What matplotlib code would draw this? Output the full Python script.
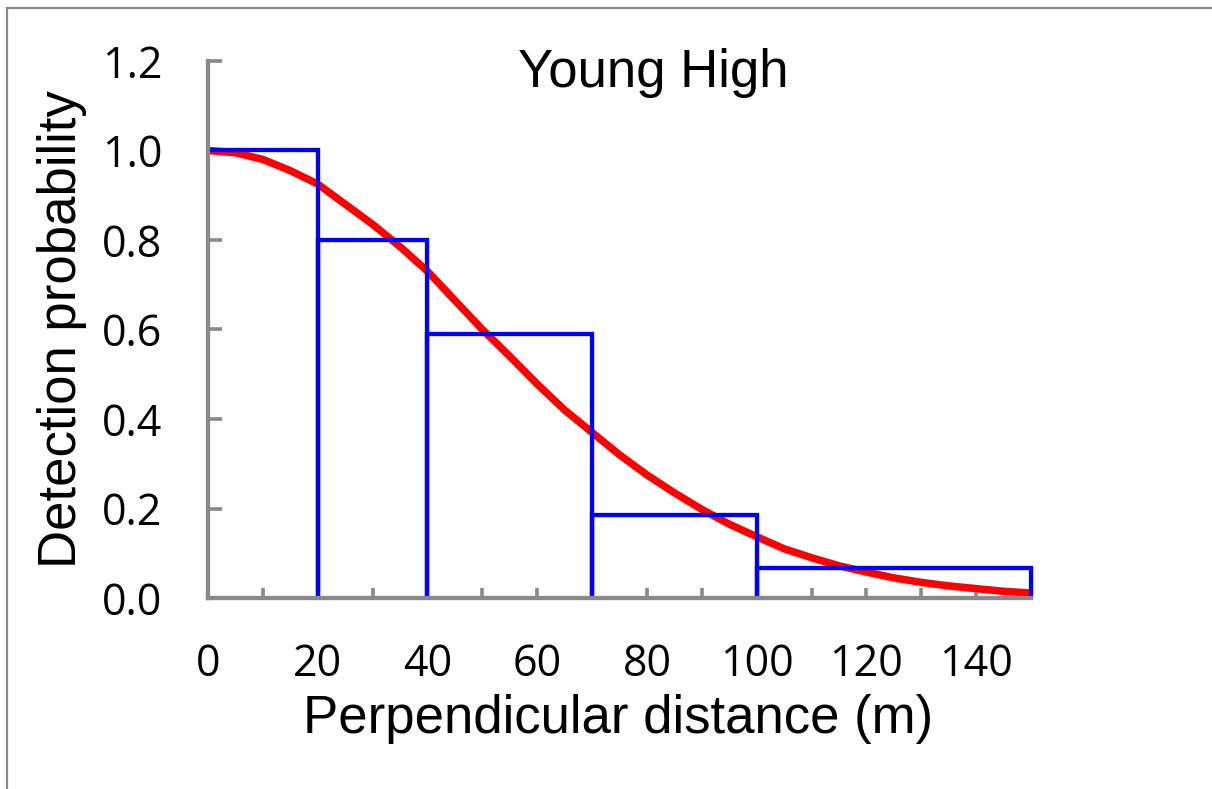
import matplotlib
matplotlib.use("Agg")
import matplotlib.pyplot as plt
from matplotlib.lines import Line2D
from matplotlib.ticker import MultipleLocator

# Histogram of scaled detection frequencies
bin_edges = [0, 20, 40, 70, 100, 150]
bin_heights = [1.00, 0.80, 0.59, 0.185, 0.066]

# Fitted detection function
curve_x = [0, 5, 10, 15, 20, 25, 30, 35, 40, 45, 50, 55, 60, 65, 70, 75,
           80, 85, 90, 95, 100, 105, 110, 115, 120, 125, 130, 135, 140, 145, 150]
curve_y = [1.00, 0.995, 0.98, 0.955, 0.925, 0.88, 0.835, 0.785, 0.73, 0.665,
           0.60, 0.54, 0.478, 0.42, 0.37, 0.32, 0.275, 0.235, 0.198, 0.165,
           0.137, 0.11, 0.09, 0.072, 0.058, 0.045, 0.035, 0.027, 0.021, 0.015, 0.011]

title = "Young High"
xlabel = "Perpendicular distance (m)"
ylabel = "Detection probability"

W, H = 1212, 789
fig = plt.figure(figsize=(W / 100, H / 100), dpi=100)
ax = fig.add_axes([208 / W, 1 - 598 / H, (1031 - 208) / W, (598 - 61) / H])

grey = "#898989"

# Histogram outline: top of each bin, then down to the axis at its right edge
path_x, path_y = [], []
for i, h in enumerate(bin_heights):
    left, right = bin_edges[i], bin_edges[i + 1]
    path_x += [left, right, right]
    path_y += [h, h, 0]
    if i + 1 < len(bin_heights):
        path_x.append(right)
        path_y.append(bin_heights[i + 1])
ax.plot(path_x, path_y, color="#0000FF", linewidth=3.1, zorder=3,
        clip_on=False, solid_joinstyle="miter", solid_capstyle="butt")
ax.plot(curve_x, curve_y, color="#FF0000", linewidth=5.4, zorder=2,
        clip_on=False, solid_capstyle="butt")

ax.set_xlim(0, 150)
ax.set_ylim(0, 1.2)

for s in ["top", "right"]:
    ax.spines[s].set_visible(False)
for s in ["left", "bottom"]:
    ax.spines[s].set_color(grey)
    ax.spines[s].set_linewidth(3.1)
    ax.spines[s].set_zorder(4)

ax.xaxis.set_major_locator(MultipleLocator(20))
ax.xaxis.set_minor_locator(MultipleLocator(10))
ax.yaxis.set_major_locator(MultipleLocator(0.2))
ax.yaxis.set_major_formatter(plt.FuncFormatter(lambda v, p: f"{v:.1f}"))

tick_font = "Open Sans"
ax.tick_params(axis="x", which="both", direction="in", length=7.5, width=2.6,
               color=grey, pad=32, labelsize=31)
ax.tick_params(axis="y", which="major", direction="in", length=10, width=2.6,
               color=grey, pad=33, labelsize=31)
for lab in ax.get_xticklabels() + ax.get_yticklabels():
    lab.set_family(tick_font)

fig.text(653 / W, 1 - 86.7 / H, title, ha="center", va="baseline",
         fontsize=38, family="Liberation Sans")
fig.text(618.5 / W, 1 - 733 / H, xlabel, ha="center", va="baseline",
         fontsize=38, family="Liberation Sans")
fig.text(62 / W, 1 - 329 / H, ylabel, ha="center", va="center", rotation=90,
         fontsize=38, family="Liberation Sans")

# Outer frame (top and left edges visible)
fig.add_artist(Line2D([7 / W, 7 / W], [0, 1 - 8 / H], transform=fig.transFigure,
                      color="#8a8a8a", linewidth=1.6))
fig.add_artist(Line2D([7 / W, 1], [1 - 8 / H, 1 - 8 / H], transform=fig.transFigure,
                      color="#8a8a8a", linewidth=1.6))

fig.savefig("out.png", dpi=100, facecolor="white")
